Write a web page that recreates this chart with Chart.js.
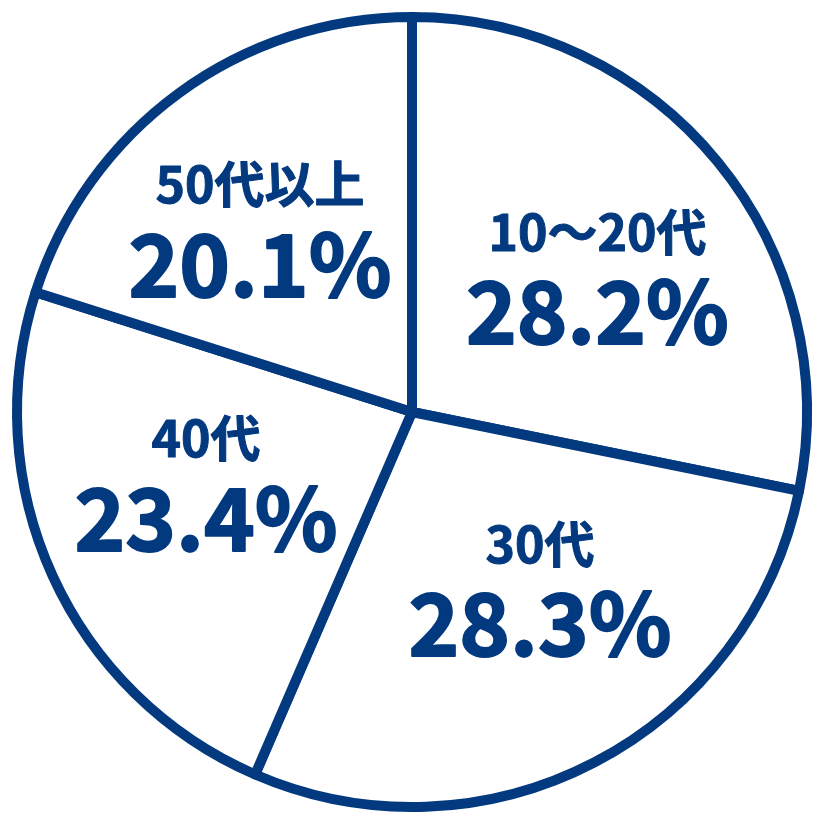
<!DOCTYPE html>
<html>
<head>
    <title>Chart</title>
    <script src="https://cdn.jsdelivr.net/npm/chart.js"></script>
    <style>
        html, body { margin: 0; padding: 0; background: #fff; }
    </style>
</head>
<body>
    <div style="width: 824px; height: 824px;">
        <canvas id="pie"></canvas>
    </div>
    <script>
        // 年代別の割合 (%)
        var categories = ['10～20代', '30代', '40代', '50代以上'];
        var shares = [28.2, 28.3, 23.4, 20.1];

        var navy = '#02397f';

        // ラベルを各スライスの中に描く
        var sliceLabels = {
            id: 'sliceLabels',
            afterDatasetsDraw(chart, args, opts) {
                var ctx = chart.ctx;
                var meta = chart.getDatasetMeta(0);
                ctx.save();
                ctx.fillStyle = opts.color;
                ctx.strokeStyle = opts.color;
                ctx.lineJoin = 'round';
                ctx.textAlign = 'center';
                ctx.textBaseline = 'middle';
                meta.data.forEach(function(arc, i) {
                    var p = arc.getProps(['x', 'y', 'startAngle', 'endAngle', 'outerRadius'], true);
                    var mid = (p.startAngle + p.endAngle) / 2;
                    var r = p.outerRadius * opts.radius;
                    var nudge = opts.nudge[i] || [0, 0];
                    var cx = p.x + Math.cos(mid) * r + nudge[0];
                    var cy = p.y + Math.sin(mid) * r + nudge[1];

                    ctx.font = opts.smallFont;
                    ctx.lineWidth = opts.smallStroke;
                    ctx.fillText(chart.data.labels[i], cx, cy - opts.gap / 2);
                    ctx.strokeText(chart.data.labels[i], cx, cy - opts.gap / 2);

                    var pct = shares[i].toFixed(1) + '%';
                    ctx.font = opts.bigFont;
                    ctx.lineWidth = opts.bigStroke;
                    ctx.fillText(pct, cx, cy + opts.gap / 2);
                    ctx.strokeText(pct, cx, cy + opts.gap / 2);
                });
                ctx.restore();
            }
        };

        var ctx = document.getElementById('pie').getContext('2d');
        var chart = new Chart(ctx, {
            type: 'pie',
            data: {
                labels: categories,
                datasets: [{
                    data: shares,
                    backgroundColor: '#ffffff',
                    borderColor: navy,
                    borderWidth: 10,
                    borderJoinStyle: 'round'
                }]
            },
            options: {
                responsive: true,
                maintainAspectRatio: false,
                animation: false,
                layout: { padding: 12 },
                plugins: {
                    legend: { display: false },
                    tooltip: { enabled: false },
                    sliceLabels: {
                        color: navy,
                        radius: 0.57,
                        gap: 80,
                        smallFont: 'bold 50px "Noto Sans CJK JP"',
                        bigFont: 'bold 86px "Noto Sans CJK JP"',
                        smallStroke: 1,
                        bigStroke: 2,
                        nudge: [[11, 2], [24, -28], [-1, -27], [-19, -6]]
                    }
                }
            },
            plugins: [sliceLabels]
        });
    </script>
</body>
</html>
